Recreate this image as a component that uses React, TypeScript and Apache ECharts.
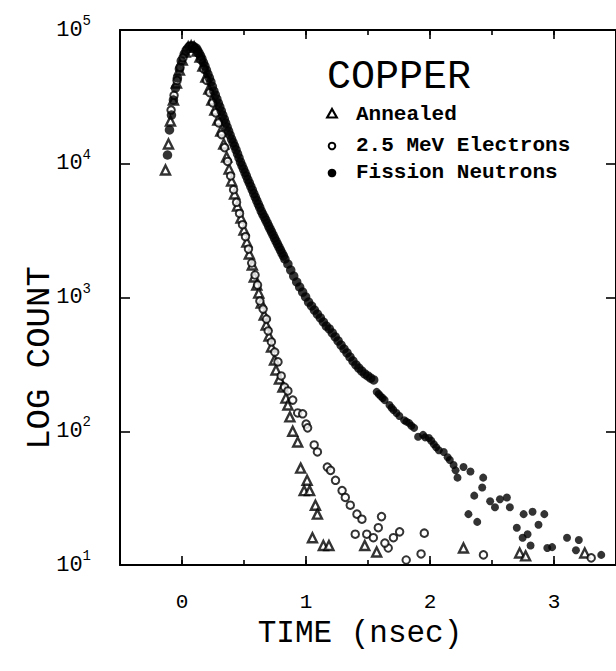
import React, { useEffect, useRef } from "react";
import * as echarts from "echarts";

const FONT = "'Liberation Mono', 'DejaVu Sans Mono', monospace";

const seriesNames = ["Annealed", "2.5 MeV Electrons", "Fission Neutrons"];
const xTickValues = [0, 1, 2, 3];
const yTickExponents = [1, 2, 3, 4, 5];

// Annealed (open triangles): time (ns) and counts
const annealedTime = [
  -0.133, -0.109, -0.093, -0.069, -0.045, -0.021, 0.002, 0.026, 0.05, 0.074,
  0.098, 0.122, 0.146, 0.169, 0.193, 0.217, 0.241, 0.265, 0.289, 0.313,
  0.337, 0.36, 0.38, 0.4, 0.424, 0.448, 0.476, 0.5, 0.523, 0.543,
  0.567, 0.583, 0.603, 0.619, 0.639, 0.663, 0.679, 0.702, 0.722, 0.746,
  0.758, 0.786, 0.814, 0.838, 0.854, 0.87, 0.893, 0.933, 0.957, 1.009,
  0.985, 1.029, 1.076, 1.092, 1.052, 1.14, 1.185, 1.474, 1.57, 2.27,
  2.723, 2.771, 3.248,
];
const annealedCount = [
  8980, 14050, 20870, 29970, 40150, 50230, 59680, 68450, 74630, 75930,
  74630, 69660, 62840, 53780, 44540, 36220, 29970, 25220, 21240, 17570,
  14050, 11230, 9135, 7430, 5939, 4832, 3930, 3196, 2599, 2115,
  1750, 1423, 1240, 1080, 910, 740, 623, 515, 426, 341,
  287, 246, 214, 177, 157, 128, 100, 83, 53, 43,
  36, 36, 28, 24, 16, 14, 14, 14, 12.5, 13.4,
  12.3, 11.7, 12.3,
];

// 2.5 MeV electrons (open circles)
const electronTime = [
  -0.088, -0.064, -0.04, -0.016, 0.008, 0.032, 0.056, 0.08, 0.104, 0.128,
  0.152, 0.176, 0.2, 0.224, 0.248, 0.272, 0.296, 0.32, 0.344, 0.368,
  0.392, 0.416, 0.44, 0.464, 0.488, 0.512, 0.536, 0.562, 0.589, 0.609,
  0.628, 0.654, 0.681, 0.695, 0.721, 0.748, 0.774, 0.8, 0.827, 0.854,
  0.893, 0.933, 0.973, 1.001, 1.013, 1.066, 1.092, 1.172, 1.198, 1.238,
  1.291, 1.317, 1.357, 1.411, 1.451, 1.609, 1.583, 1.397, 1.49, 1.543,
  1.663, 1.636, 1.705, 1.755, 1.954, 1.928, 1.808, 2.431, 3.3,
];
const electronCount = [
  25200, 32500, 42000, 52500, 62000, 70000, 75000, 75500, 73000, 67500,
  60000, 51000, 42000, 34000, 28500, 24000, 20200, 16500, 13200, 10400,
  8100, 6400, 5150, 4250, 3500, 2850, 2300, 1811, 1473, 1240,
  941, 820, 690, 562, 465, 391, 330, 259, 214, 200,
  171, 137, 135, 113, 106, 79, 70, 54, 51, 43,
  36, 32, 28, 24, 22, 23, 19, 17, 17, 16,
  13.4, 14.6, 16, 17.7, 17.3, 12.1, 10.9, 11.9, 11.3,
];

// Fission neutrons (filled circles)
const fissionTime = [
  -0.117, -0.101, -0.085, -0.069, -0.053, -0.037, -0.021, -0.006, 0.018, 0.042,
  0.066, 0.09, 0.114, 0.126, 0.138, 0.15, 0.161, 0.173, 0.185, 0.197,
  0.209, 0.221, 0.233, 0.245, 0.257, 0.269, 0.281, 0.293, 0.305, 0.317,
  0.329, 0.341, 0.352, 0.364, 0.376, 0.388, 0.4, 0.412, 0.424, 0.436,
  0.448, 0.46, 0.472, 0.484, 0.496, 0.508, 0.519, 0.531, 0.543, 0.555,
  0.567, 0.579, 0.591, 0.603, 0.615, 0.627, 0.639, 0.651, 0.663, 0.675,
  0.687, 0.699, 0.71, 0.722, 0.734, 0.746, 0.758, 0.77, 0.782, 0.794,
  0.806, 0.818, 0.83, 0.854, 0.877, 0.901, 0.925, 0.949, 0.973, 0.997,
  1.021, 1.045, 1.068, 1.092, 1.116, 1.14, 1.164, 1.188, 1.212, 1.236,
  1.259, 1.283, 1.307, 1.331, 1.355, 1.379, 1.403, 1.426, 1.45, 1.474,
  1.498, 1.522, 1.546, 1.57, 1.586, 1.602, 1.618, 1.634, 1.673, 1.69,
  1.705, 1.73, 1.753, 1.792, 1.81, 1.832, 1.85, 1.872, 1.904, 1.944,
  1.96, 1.991, 2.01, 2.031, 2.05, 2.071, 2.111, 2.142, 2.16, 2.19,
  2.206, 2.27, 2.326, 2.222, 2.429, 2.421, 2.357, 2.485, 2.524, 2.564,
  2.62, 2.644, 2.755, 2.827, 2.922, 2.31, 2.381, 2.875, 2.7, 2.747,
  2.787, 2.811, 2.946, 2.985, 3.105, 3.2, 3.177, 3.381,
];
const fissionCount = [
  11625, 17880, 23140, 29970, 36830, 43780, 51100, 58660, 66150, 72110,
  75930, 75930, 73360, 70300, 67300, 64000, 60710, 57100, 53780, 50200,
  46880, 43800, 40860, 37800, 34990, 32700, 30490, 28400, 26570, 24800,
  23140, 21600, 20160, 18800, 17570, 16400, 15310, 14400, 13570, 12700,
  11830, 11050, 10300, 9700, 9135, 8600, 8100, 7620, 7180, 6760,
  6365, 5990, 5640, 5310, 5000, 4710, 4433, 4210, 3999, 3800,
  3606, 3420, 3252, 3090, 2933, 2785, 2645, 2510, 2385, 2265,
  2151, 2045, 1940, 1780, 1605, 1447, 1306, 1198, 1099, 1009,
  925, 864, 806, 752, 703, 656, 612, 582, 543, 507,
  473, 441, 412, 385, 359, 335, 313, 297, 282, 268,
  259, 250, 242, 197, 190, 183, 177, 171, 157, 150,
  144, 137, 130, 121, 118, 115, 110, 106, 91, 94,
  90, 89, 85, 80, 76, 72, 70, 64, 61, 56,
  51, 54, 50, 45, 45, 38, 33, 30, 27, 31,
  32, 27, 24, 25, 24, 24, 21, 20, 19, 16,
  17, 14, 13.4, 13.6, 16, 15.4, 12.9, 11.9,
];

const zip = (t: number[], c: number[]) => t.map((v, i) => [v, c[i]]);

export default function App() {
  const ref = useRef<HTMLDivElement>(null);
  useEffect(() => {
    if (!ref.current) return;
    const chart = echarts.init(ref.current, undefined, { renderer: "svg" });
    const axisLine = { show: true, onZero: false, lineStyle: { color: "#000", width: 2 } };
    const baseX = {
      type: "value",
      min: -0.5,
      max: 3.5,
      interval: 0.5,
      axisLine,
      splitLine: { show: false },
    };
    const baseY = {
      type: "log",
      logBase: 10,
      min: 10,
      max: 100000,
      axisLine,
      splitLine: { show: false },
      minorTick: { show: false },
    };
    const tickStyle = { color: "#000", width: 1.6 };
    chart.setOption({
      animation: false,
      backgroundColor: "#fff",
      grid: { left: 120, top: 30, width: 500, height: 535, containLabel: false },
      xAxis: [
        {
          ...baseX,
          position: "bottom",
          axisTick: { show: true, inside: true, length: 5, lineStyle: tickStyle },
          axisLabel: {
            show: true,
            margin: 27,
            color: "#000",
            fontFamily: FONT,
            fontSize: 21,
            customValues: xTickValues,
            formatter: (v: number) => String(v),
          },
        },
        {
          ...baseX,
          position: "top",
          axisTick: { show: true, inside: true, length: 5, lineStyle: tickStyle },
          axisLabel: { show: false },
        },
        {
          ...baseX,
          position: "bottom",
          axisLine: { show: false, onZero: false },
          axisTick: { show: true, inside: true, length: 9, customValues: xTickValues, lineStyle: tickStyle },
          axisLabel: { show: false },
        },
        {
          ...baseX,
          position: "top",
          axisLine: { show: false, onZero: false },
          axisTick: { show: true, inside: true, length: 9, customValues: xTickValues, lineStyle: tickStyle },
          axisLabel: { show: false },
        },
      ],
      yAxis: [
        {
          ...baseY,
          position: "left",
          axisTick: { show: true, inside: true, length: 10, lineStyle: tickStyle },
          axisLabel: {
            show: true,
            margin: 29,
            color: "#000",
            formatter: (v: number) => {
              const e = Math.round(Math.log10(v));
              return yTickExponents.includes(e) ? `{b|10}{s|${e}}` : "";
            },
            rich: {
              b: { fontFamily: FONT, fontSize: 22, lineHeight: 32, color: "#000" },
              s: { fontFamily: FONT, fontSize: 14, lineHeight: 14, verticalAlign: "top", color: "#000" },
            },
          },
        },
        {
          ...baseY,
          position: "right",
          axisTick: { show: true, inside: true, length: 10, lineStyle: tickStyle },
          axisLabel: { show: false },
        },
      ],
      series: [
        {
          name: seriesNames[0],
          type: "scatter",
          symbol: "triangle",
          symbolSize: 9,
          itemStyle: { color: "#fff", borderColor: "#000", borderWidth: 2.4 },
          data: zip(annealedTime, annealedCount),
          z: 2,
        },
        {
          name: seriesNames[1],
          type: "scatter",
          symbol: "circle",
          symbolSize: 7.5,
          itemStyle: { color: "#fff", borderColor: "#000", borderWidth: 2 },
          data: zip(electronTime, electronCount),
          z: 3,
        },
        {
          name: seriesNames[2],
          type: "scatter",
          symbol: "circle",
          symbolSize: (val: number[]) => (val[0] < 1.56 ? 9.5 : 8),
          itemStyle: { color: "#000", borderWidth: 0 },
          data: zip(fissionTime, fissionCount),
          z: 4,
        },
      ],
      graphic: [
        {
          type: "text",
          x: 327,
          y: 77,
          style: { text: "COPPER", fontFamily: FONT, fontSize: 40, fill: "#000", verticalAlign: "middle" },
        },
        {
          type: "polygon",
          shape: { points: [[332, 109], [336.8, 117.5], [327.2, 117.5]] },
          style: { fill: "#fff", stroke: "#000", lineWidth: 2.2 },
        },
        {
          type: "circle",
          shape: { cx: 332, cy: 146, r: 3.3 },
          style: { fill: "#fff", stroke: "#000", lineWidth: 2 },
        },
        {
          type: "circle",
          shape: { cx: 332, cy: 173, r: 4.3 },
          style: { fill: "#000" },
        },
        ...seriesNames.map((n, i) => ({
          type: "text",
          x: 356,
          y: [114, 145, 172][i],
          style: {
            text: n,
            fontFamily: FONT,
            fontSize: 21,
            fontWeight: "bold",
            fill: "#000",
            verticalAlign: "middle",
            align: "left",
          },
        })),
        {
          type: "text",
          x: 40,
          y: 358,
          rotation: Math.PI / 2,
          style: {
            text: "LOG COUNT",
            fontFamily: FONT,
            fontSize: 34,
            fill: "#000",
            align: "center",
            verticalAlign: "middle",
          },
        },
        {
          type: "text",
          x: 360,
          y: 633,
          style: {
            text: "TIME (nsec)",
            fontFamily: FONT,
            fontSize: 31,
            fill: "#000",
            align: "center",
            verticalAlign: "middle",
          },
        },
      ],
    });
    return () => chart.dispose();
  }, []);
  return (
    <div
      ref={ref}
      style={{ position: "absolute", left: 0, top: 0, width: 616, height: 671, overflow: "hidden" }}
    />
  );
}
